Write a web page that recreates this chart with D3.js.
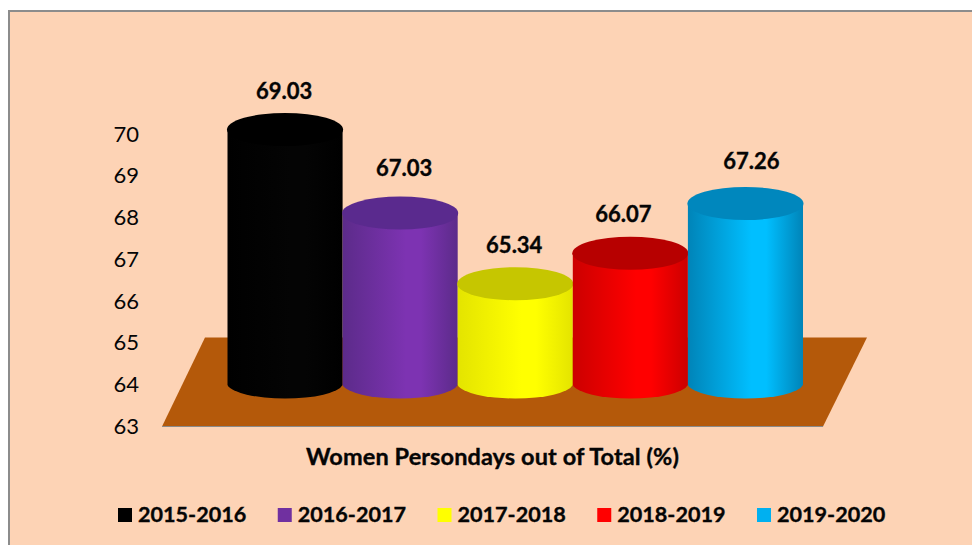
<!DOCTYPE html>
<html>
<head>
<meta charset="utf-8">
<script src="https://cdnjs.cloudflare.com/ajax/libs/d3/7.8.5/d3.min.js"></script>
<style>
    html, body { margin: 0; padding: 0; background: #fff; overflow: hidden; }
    text { font-family: Lato, "Open Sans", sans-serif; fill: #050505; }
    .bold { font-weight: bold; stroke: #050505; stroke-width: 0.35px; }
</style>
</head>
<body>
<div id="chart"></div>
<script>
// Values
const years = ['2015-2016', '2016-2017', '2017-2018', '2018-2019', '2019-2020'];
const values = [69.03, 67.03, 65.34, 66.07, 67.26];
const yTicks = [63, 64, 65, 66, 67, 68, 69, 70];
const axisTitle = 'Women Persondays out of Total (%)';

const legendColors = ['#000000', '#7030a0', '#ffff00', '#ff0000', '#00b0f0'];
const edgeColors = ['#000000', '#5c2b8a', '#e4e400', '#cc0000', '#0084b8'];
const midColors = ['#040404', '#7d33b2', '#ffff00', '#ff0000', '#00bfff'];
const topColors = ['#000000', '#5a2a8e', '#c6c600', '#b70000', '#0087bd'];

const width = 972;
const height = 545;

const svg = d3.select('#chart')
    .append('svg')
    .attr('width', width)
    .attr('height', height);

// Chart area: the frame runs off the right and bottom of the page
svg.append('rect')
    .attr('x', 9)
    .attr('y', 11)
    .attr('width', width)
    .attr('height', height)
    .attr('fill', '#fdd3b5')
    .attr('stroke', '#8c8c8c')
    .attr('stroke-width', 2);

const y = d3.scaleLinear().domain([63, 70]).range([426.5, 134]);
const x = d3.scaleBand().domain(years).range([227.5, 803]).padding(0);

// The cylinders stand back from the front of the axis by this much
const topLift = 45;
const bottomLift = 41.5;
const rxBar = x.bandwidth() / 2 + 0.5;
const ryTop = 16.5;
const ryBottom = 15.5;

// Floor
const floorBack = y(65.13);
const floorPath = d3.line()([
    [162, y(63)],
    [823, y(63)],
    [867, floorBack],
    [205, floorBack]
]) + 'Z';

svg.append('path')
    .attr('d', floorPath)
    .attr('fill', '#b4590a');

svg.append('line')
    .attr('x1', 162)
    .attr('x2', 823)
    .attr('y1', y(63))
    .attr('y2', y(63))
    .attr('stroke', '#8a8a8a')
    .attr('stroke-width', 1);

// Side shading of the cylinders
const defs = svg.append('defs');
years.forEach((year, i) => {
    const grad = defs.append('linearGradient')
        .attr('id', 'side-' + i)
        .attr('x1', '0%')
        .attr('x2', '100%');
    grad.append('stop').attr('offset', '0%').attr('stop-color', edgeColors[i]);
    grad.append('stop').attr('offset', '55%').attr('stop-color', midColors[i]);
    grad.append('stop').attr('offset', '68%').attr('stop-color', midColors[i]);
    grad.append('stop').attr('offset', '100%').attr('stop-color', edgeColors[i]);
});

const bar = svg.selectAll('.bar')
    .data(years)
    .enter().append('g')
    .attr('class', 'bar');

bar.append('path')
    .attr('d', (d, i) => {
        const x0 = x(d);
        const x1 = x0 + x.bandwidth();
        const top = y(values[i]) - topLift;
        const bottom = y(63) - bottomLift;
        return `M${x0},${top}L${x0},${bottom}` +
            `A${rxBar},${ryBottom} 0 0 0 ${x1},${bottom}` +
            `L${x1},${top}Z`;
    })
    .attr('fill', (d, i) => `url(#side-${i})`);

bar.append('ellipse')
    .attr('cx', d => x(d) + x.bandwidth() / 2)
    .attr('cy', (d, i) => y(values[i]) - topLift)
    .attr('rx', rxBar)
    .attr('ry', ryTop)
    .attr('fill', (d, i) => topColors[i]);

// Value labels were nudged by hand in the original
const labelDx = [-1, 4, -1, -7, 6];
const labelDy = [0, -6, 0, 0, -4];
bar.append('text')
    .attr('class', 'bold')
    .attr('x', (d, i) => x(d) + x.bandwidth() / 2 + labelDx[i])
    .attr('y', (d, i) => y(values[i]) - topLift - ryTop - 22 + labelDy[i])
    .attr('dy', '0.35em')
    .attr('text-anchor', 'middle')
    .attr('font-size', '22px')
    .text((d, i) => values[i].toFixed(2));

// Value axis
const axis = svg.append('g')
    .attr('transform', 'translate(139,0)')
    .call(d3.axisLeft(y).tickValues(yTicks).tickSize(0).tickPadding(0).tickFormat(d3.format('d')));
axis.select('.domain').remove();
axis.selectAll('text')
    .attr('font-size', '22px')
    .style('font-family', 'Lato, "Open Sans", sans-serif');

// Category title
svg.append('text')
    .attr('class', 'bold')
    .attr('x', 492.5)
    .attr('y', 457)
    .attr('dy', '0.35em')
    .attr('text-anchor', 'middle')
    .attr('font-size', '23.5px')
    .attr('letter-spacing', '0.1px')
    .text(axisTitle);

// Legend
const legendX = d3.scalePoint().domain(years).range([118, 757]);
const legend = svg.selectAll('.legend')
    .data(years)
    .enter().append('g')
    .attr('class', 'legend')
    .attr('transform', d => `translate(${legendX(d)},508)`);

legend.append('rect')
    .attr('width', 14)
    .attr('height', 14)
    .attr('fill', (d, i) => legendColors[i]);

legend.append('text')
    .attr('class', 'bold')
    .attr('x', 20)
    .attr('y', 6)
    .attr('dy', '0.35em')
    .attr('font-size', '21.6px')
    .text(d => d);
</script>
</body>
</html>
